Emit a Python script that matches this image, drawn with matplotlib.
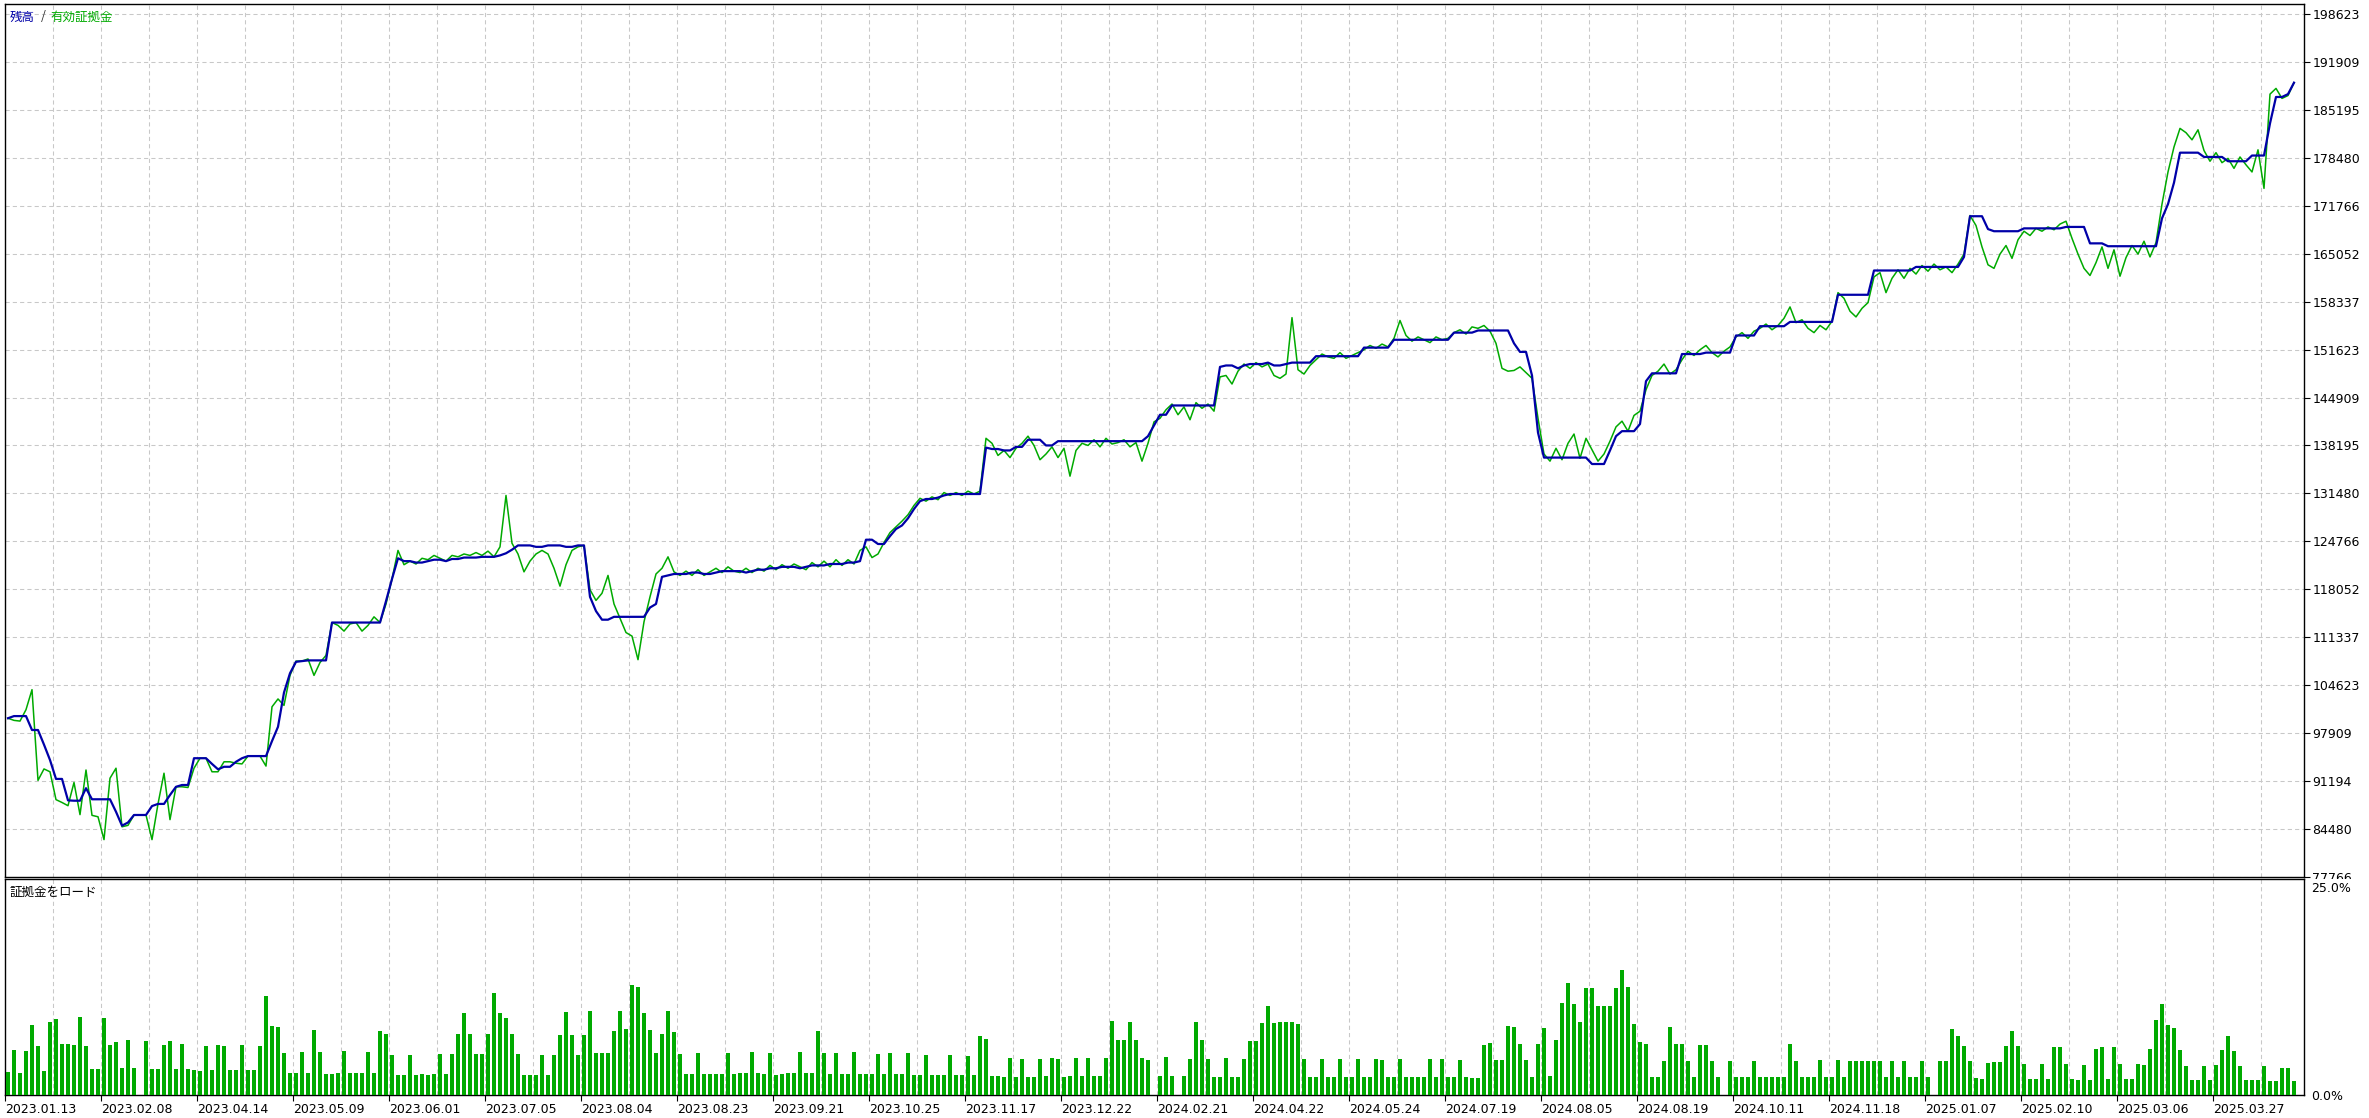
import numpy as np
import matplotlib.pyplot as plt
from matplotlib.patches import Rectangle

# balance / equity in yen, one sample per deal step
balance = [
    100000, 100300, 100300, 100300, 98350, 98350, 96300, 94150, 91500, 91500,
    88500, 88450, 88450, 90200, 88650, 88650, 88650, 88650, 86900, 84950,
    85400, 86450, 86450, 86450, 87700, 88000, 88000, 89250, 90400, 90650,
    90650, 94400, 94400, 94400, 93600, 92850, 93200, 93200, 93900, 94400,
    94700, 94700, 94700, 94700, 96800, 98800, 103600, 106300, 107900, 108000,
    108100, 108100, 108100, 108100, 113400, 113400, 113400, 113400, 113400, 113400,
    113400, 113400, 113400, 116400, 119500, 122400, 122000, 122000, 121800, 121800,
    122000, 122200, 122200, 122000, 122300, 122300, 122500, 122500, 122500, 122600,
    122600, 122600, 122800, 123100, 123600, 124200, 124200, 124200, 124000, 124000,
    124200, 124200, 124200, 124000, 124000, 124200, 124200, 117000, 115000, 113800,
    113800, 114200, 114200, 114200, 114200, 114200, 114200, 115500, 116000, 119800,
    120000, 120200, 120200, 120200, 120400, 120400, 120200, 120200, 120400, 120600,
    120600, 120600, 120600, 120400, 120600, 120800, 120800, 121000, 121000, 121200,
    121200, 121200, 121000, 121200, 121400, 121400, 121400, 121600, 121600, 121600,
    121800, 121800, 122000, 125000, 125000, 124400, 124400, 125500, 126500, 127000,
    128000, 129300, 130400, 130700, 130700, 130900, 131200, 131400, 131400, 131400,
    131400, 131400, 131400, 137900, 137700, 137700, 137500, 137500, 138000, 138000,
    139000, 139000, 139000, 138200, 138200, 138800, 138800, 138800, 138800, 138800,
    138800, 138800, 138800, 138800, 138800, 138800, 138800, 138800, 138800, 138800,
    139500, 141000, 142500, 142500, 143800, 143800, 143800, 143800, 143800, 143800,
    143800, 143800, 149200, 149400, 149400, 149000, 149400, 149600, 149600, 149600,
    149800, 149400, 149400, 149600, 149800, 149800, 149800, 149800, 150700, 150700,
    150700, 150700, 150700, 150700, 150700, 150700, 151900, 151900, 151900, 151900,
    151900, 153000, 153000, 153000, 153000, 153000, 153000, 153000, 153000, 153000,
    153000, 154000, 154000, 154000, 154000, 154300, 154300, 154300, 154300, 154300,
    154300, 152500, 151300, 151300, 148000, 140000, 136500, 136500, 136500, 136500,
    136500, 136500, 136500, 136500, 135600, 135600, 135600, 137500, 139500, 140200,
    140200, 140200, 141200, 147200, 148300, 148300, 148300, 148300, 148300, 151000,
    151000, 151000, 151000, 151200, 151200, 151200, 151200, 151200, 153600, 153600,
    153600, 153600, 154900, 154900, 154900, 154900, 154900, 155500, 155500, 155500,
    155500, 155500, 155500, 155500, 155500, 159300, 159300, 159300, 159300, 159300,
    159300, 162700, 162700, 162700, 162700, 162700, 162700, 162700, 163200, 163200,
    163200, 163200, 163200, 163200, 163200, 163200, 164600, 170300, 170300, 170300,
    168500, 168200, 168200, 168200, 168200, 168200, 168600, 168600, 168600, 168600,
    168600, 168600, 168600, 168800, 168800, 168800, 168800, 166500, 166500, 166500,
    166100, 166100, 166100, 166100, 166100, 166100, 166100, 166100, 166100, 170000,
    172000, 175000, 179200, 179200, 179200, 179200, 178600, 178600, 178600, 178600,
    178000, 178000, 178000, 178000, 178800, 178800, 178800, 183300, 187000, 187000,
    187400, 189000,
]

equity = [
    100000, 99700, 99600, 101200, 104000, 91300, 92900, 92500, 88600, 88200,
    87750, 91000, 86500, 92750, 86400, 86200, 83000, 91600, 93000, 84800,
    85000, 86450, 86450, 86450, 83000, 88000, 92300, 85800, 90400, 90400,
    90300, 93000, 94400, 94400, 92500, 92500, 93900, 93900, 93700, 93600,
    94700, 94700, 94700, 93300, 101600, 102700, 101800, 106000, 108000, 108000,
    108300, 106000, 107800, 108800, 113400, 113000, 112200, 113200, 113400, 112200,
    113000, 114200, 113400, 116000, 119500, 123500, 121500, 122000, 121600, 122400,
    122200, 122800, 122400, 122000, 122800, 122600, 123000, 122800, 123200, 122800,
    123400, 122600, 124000, 131200, 124500, 123000, 120500, 122000, 123000, 123500,
    123000, 121000, 118500, 121500, 123500, 124000, 124200, 118000, 116500, 117500,
    120000, 116000, 114000, 112000, 111500, 108200, 113500, 117000, 120200, 121000,
    122600, 120500, 120000, 120600, 120000, 120800, 120000, 120500, 121000, 120400,
    121200, 120600, 120400, 121000, 120400, 121000, 120600, 121400, 120800, 121500,
    121000, 121600, 121200, 120800, 121800, 121200, 122000, 121200, 122200, 121400,
    122200, 121600, 123500, 124000, 122500, 123000, 124600, 126000, 126800, 127600,
    128500, 129800, 130800, 130400, 131000, 130600, 131600, 131200, 131600, 131200,
    131800, 131400, 131800, 139200, 138500, 136800, 137500, 136500, 137800, 138500,
    139500, 138200, 136200, 137000, 138000, 136500, 137800, 133900, 137500, 138500,
    138200, 139000, 138000, 139200, 138400, 138600, 139000, 138000, 138600, 136000,
    138500, 141500, 142000, 143200, 144000, 142500, 143600, 141800, 144200, 143400,
    144000, 143000, 147800, 148000, 146800, 148600, 149600, 149000, 149800, 149200,
    149600, 148000, 147600, 148200, 156100, 148800, 148200, 149400, 150200, 151000,
    150600, 150400, 151200, 150400, 150800, 151200, 151600, 152200, 151800, 152400,
    152000, 153200, 155700, 153600, 152800, 153400, 153000, 152600, 153400, 153000,
    153200, 154000, 154400, 153800, 154800, 154600, 155000, 154200, 152500, 149000,
    148600, 148700, 149200, 148400, 147600, 142000, 137000, 136000, 137800, 136200,
    138500, 139800, 136400, 139200, 137600, 136000, 137000, 138800, 140800, 141600,
    140200, 142400, 143000, 146000, 148000, 148600, 149600, 148200, 148800, 150200,
    151400, 150800, 151600, 152200, 151200, 150600, 151400, 152000, 153400, 154000,
    153200, 154200, 154600, 155200, 154400, 155000, 156000, 157600, 155400, 155800,
    154600, 154000, 155000, 154400, 155600, 159600, 158800, 157000, 156200, 157400,
    158200, 161800, 162400, 159600, 161600, 162800, 161600, 163000, 162200, 163400,
    162600, 163600, 162800, 163200, 162400, 163600, 165000, 170400, 169000, 166000,
    163500, 163000, 165000, 166200, 164400, 167000, 168200, 167600, 168600, 168200,
    168800, 168400, 169200, 169600, 167200, 165000, 163000, 162000, 163800, 166000,
    163000, 165600, 161900, 164500, 166200, 165000, 166800, 164600, 166600, 172000,
    176500, 180000, 182600, 182000, 181000, 182400, 179500, 178000, 179200, 177800,
    178400, 177000, 178600, 177500, 176500, 179600, 174200, 187400, 188200, 186800,
    187200, 189000,
]

# margin load, percent
margin_load = [
    2.7, 5.4, 2.6, 5.2, 8.3, 5.8, 2.9, 8.7, 9.0, 6.1,
    6.1, 6.0, 9.3, 5.8, 3.1, 3.1, 9.2, 5.9, 6.3, 3.2,
    6.5, 3.2, 0.0, 6.4, 3.1, 3.1, 6.0, 6.4, 3.1, 6.1,
    3.1, 3.0, 2.9, 5.8, 3.0, 5.9, 5.8, 3.0, 3.0, 6.0,
    3.0, 3.0, 5.8, 11.8, 8.2, 8.1, 5.0, 2.6, 2.6, 5.1,
    2.6, 7.7, 5.1, 2.5, 2.5, 2.6, 5.2, 2.6, 2.6, 2.6,
    5.1, 2.6, 7.6, 7.3, 4.8, 2.4, 2.4, 4.8, 2.4, 2.5,
    2.4, 2.5, 4.9, 2.5, 4.9, 7.3, 9.8, 7.3, 4.9, 4.9,
    7.3, 12.1, 9.8, 9.2, 7.3, 4.9, 2.4, 2.4, 2.4, 4.8,
    2.4, 4.8, 7.2, 9.9, 7.1, 4.8, 7.1, 10.0, 5.0, 5.0,
    5.0, 7.6, 10.0, 7.8, 13.1, 12.8, 9.8, 7.7, 5.0, 7.3,
    10.0, 7.5, 4.9, 2.5, 2.5, 5.0, 2.5, 2.5, 2.5, 2.5,
    5.0, 2.5, 2.6, 2.6, 5.1, 2.6, 2.5, 5.0, 2.4, 2.5,
    2.6, 2.6, 5.1, 2.6, 2.6, 7.6, 5.0, 2.5, 5.0, 2.5,
    2.5, 5.1, 2.5, 2.5, 2.5, 4.9, 2.5, 5.0, 2.5, 2.5,
    5.0, 2.4, 2.4, 4.8, 2.4, 2.4, 2.4, 4.8, 2.4, 2.4,
    4.7, 2.4, 7.0, 6.7, 2.3, 2.3, 2.2, 4.4, 2.2, 4.3,
    2.2, 2.2, 4.3, 2.3, 4.4, 4.3, 2.2, 2.3, 4.4, 2.3,
    4.4, 2.3, 2.3, 4.4, 8.8, 6.5, 6.6, 8.7, 6.5, 4.4,
    4.2, 0.0, 2.3, 4.5, 2.3, 0.0, 2.3, 4.3, 8.7, 6.5,
    4.3, 2.2, 2.2, 4.4, 2.2, 2.2, 4.3, 6.4, 6.4, 8.6,
    10.6, 8.6, 8.7, 8.7, 8.7, 8.5, 4.3, 2.2, 2.2, 4.3,
    2.2, 2.2, 4.3, 2.2, 2.2, 4.3, 2.2, 2.2, 4.3, 4.2,
    2.2, 2.2, 4.3, 2.2, 2.2, 2.2, 2.2, 4.3, 2.2, 4.3,
    2.2, 2.2, 4.2, 2.2, 2.0, 2.0, 6.0, 6.2, 4.2, 4.2,
    8.2, 8.1, 6.1, 4.2, 2.2, 6.1, 8.0, 2.3, 6.5, 11.0,
    13.3, 10.8, 8.7, 12.7, 12.7, 10.6, 10.6, 10.6, 12.7, 14.9,
    12.9, 8.5, 6.3, 6.1, 2.2, 2.2, 4.1, 8.1, 6.1, 6.1,
    4.1, 2.1, 6.0, 6.0, 4.1, 2.1, 0.0, 4.1, 2.1, 2.1,
    2.1, 4.1, 2.1, 2.2, 2.1, 2.2, 2.2, 6.1, 4.1, 2.1,
    2.1, 2.1, 4.2, 2.2, 2.1, 4.2, 2.2, 4.1, 4.1, 4.1,
    4.1, 4.1, 4.1, 2.1, 4.0, 2.1, 4.0, 2.1, 2.1, 4.1,
    2.1, 0.0, 4.0, 4.0, 7.8, 7.0, 5.8, 4.0, 2.0, 1.9,
    3.8, 3.9, 3.9, 5.8, 7.6, 5.8, 3.7, 1.9, 1.9, 3.7,
    1.9, 5.7, 5.7, 3.7, 1.9, 1.8, 3.6, 1.8, 5.5, 5.7,
    1.9, 5.7, 3.7, 1.9, 1.9, 3.7, 3.6, 5.5, 8.9, 10.8,
    8.3, 8.0, 5.3, 3.4, 1.8, 1.8, 3.5, 1.8, 3.6, 5.3,
    7.0, 5.2, 3.5, 1.8, 1.8, 1.8, 3.5, 1.7, 1.7, 3.2,
    3.2, 1.7,
]

date_labels = [
    "2023.01.13", "2023.02.08", "2023.04.14", "2023.05.09", "2023.06.01",
    "2023.07.05", "2023.08.04", "2023.08.23", "2023.09.21", "2023.10.25",
    "2023.11.17", "2023.12.22", "2024.02.21", "2024.04.22", "2024.05.24",
    "2024.07.19", "2024.08.05", "2024.08.19", "2024.10.11", "2024.11.18",
    "2025.01.07", "2025.02.10", "2025.03.06", "2025.03.27",
]

price_ticks = [
    198623, 191909, 185195, 178480, 171766, 165052, 158337, 151623, 144909,
    138195, 131480, 124766, 118052, 111337, 104623, 97909, 91194, 84480, 77766,
]

W, H = 2369, 1118
BLUE = "#0000A8"
GREEN = "#00AA00"
GRID = "#C8C8C8"
JP = ["Noto Sans CJK JP", "DejaVu Sans"]
FS = 9
dash = (0, (4, 3))

fig = plt.figure(figsize=(W / 100, H / 100), dpi=100)
fig.patch.set_facecolor("white")
x0, x1 = 5 / W, 2304 / W
ax = fig.add_axes([x0, 1 - 877 / H, x1 - x0, (877 - 4) / H], zorder=0)
ax2 = fig.add_axes([x0, 1 - 1095 / H, x1 - x0, (1095 - 879) / H], zorder=2)

# sample i sits at pixel 8 + 6*i inside the frame
xlim = (-0.5, (2304 - 8) / 6)
grid_x = np.arange(7.5, xlim[1], 8)

# --- equity / balance panel
ax.plot(np.arange(len(equity)), equity, color=GREEN, lw=1.1, zorder=3)
ax.plot(np.arange(len(balance)), balance, color=BLUE, lw=1.6, zorder=4)
for gx in grid_x:
    ax.axvline(gx, color=GRID, lw=0.75, ls=dash, zorder=1)
ax.set_xlim(*xlim)
ax.set_ylim(77766, 200020)
ax.set_xticks([])
ax.yaxis.tick_right()
ax.set_yticks(price_ticks, [str(v) for v in price_ticks])
ax.tick_params(axis="y", length=4, width=0.8, pad=2, labelsize=FS)
ax.yaxis.grid(True, color=GRID, lw=0.75, ls=dash)
ax.set_axisbelow(True)
for s in ax.spines.values():
    s.set_linewidth(1.0)

# cut the lower half of the 77766 label like the terminal does
fig.add_artist(Rectangle((2306 / W, 0), (W - 2306) / W, 1 - 879 / H,
                         transform=fig.transFigure, facecolor="white",
                         edgecolor="none", zorder=1))

# --- margin load panel
ax2.bar(np.arange(len(margin_load)), margin_load, width=0.8, color=GREEN,
        linewidth=0, antialiased=False, zorder=3)
for gx in grid_x:
    ax2.axvline(gx, color=GRID, lw=0.75, ls=dash, zorder=1)
ax2.set_xlim(*xlim)
ax2.set_ylim(0, 216 / 8.4)
ax2.set_yticks([])
ax2.set_xticks(-0.5 + 16 * np.arange(len(date_labels)), date_labels)
ax2.tick_params(axis="x", length=4, width=0.8, pad=2, labelsize=FS)
for lab in ax2.get_xticklabels():
    lab.set_horizontalalignment("left")
for s in ax2.spines.values():
    s.set_linewidth(1.0)

# right-hand percent labels of the lower panel
fig.text(2311 / W, 1 - 882 / H, "25.0%", fontsize=FS, va="top", ha="left",
         zorder=5)
fig.text(2311 / W, 1 - 1097 / H, "0.0%", fontsize=FS, va="center", ha="left",
         zorder=5)

# titles
fig.text(10 / W, 1 - 17 / H, "残高", color=BLUE, family=JP, fontsize=FS,
         va="center", ha="left")
fig.text(43 / W, 1 - 17 / H, "/", color="#303030", family=JP, fontsize=FS,
         va="center", ha="center")
fig.text(50 / W, 1 - 17 / H, "有効証拠金", color=GREEN, family=JP, fontsize=FS,
         va="center", ha="left")
fig.text(10 / W, 1 - 892 / H, "証拠金をロード", color="black", family=JP,
         fontsize=FS, va="center", ha="left")

fig.savefig("out.png", dpi=100)
